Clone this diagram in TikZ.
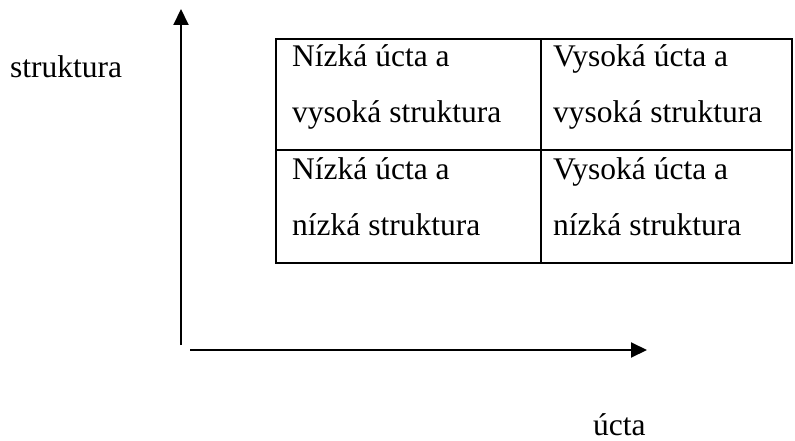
\documentclass[tikz,border=0pt]{standalone}
\usepackage{fontspec}
\setmainfont{Liberation Serif}
\usetikzlibrary{arrows.meta}
\begin{document}
\begin{tikzpicture}[x=1pt,y=-1pt,
  lbl/.style={anchor=base west,inner sep=0pt,font=\fontsize{31.5}{38}\selectfont},
  axis/.style={line width=2pt,-{Triangle[length=16pt,width=15pt]}},
  grid/.style={line width=2pt}]
\useasboundingbox (0,0) rectangle (795,441);
% axes
\coordinate (vbot) at (181,345);
\coordinate (vtop) at (181,9);
\coordinate (hstart) at (190,350);
\coordinate (hend) at (647,350);
\draw[axis] (vbot) -- (vtop);
\draw[axis] (hstart) -- (hend);
\node[lbl] (ylab) at (10,78) {struktura};
\node[lbl] (xlab) at (593,435) {úcta};
% table
\coordinate (tl) at (276,39);
\coordinate (br) at (792,263);
\draw[grid] (tl) rectangle (br);
\draw[grid] (276,150.5) -- (792,150.5);
\draw[grid] (541,39) -- (541,263);
\node[lbl] (a1) at (292,67) {Nízká úcta a};
\node[lbl] (a2) at (292,123) {vysoká struktura};
\node[lbl] (b1) at (553,67) {Vysoká úcta a};
\node[lbl] (b2) at (553,123) {vysoká struktura};
\node[lbl] (c1) at (292,179) {Nízká úcta a};
\node[lbl] (c2) at (292,235) {nízká struktura};
\node[lbl] (d1) at (553,179) {Vysoká úcta a};
\node[lbl] (d2) at (553,235) {nízká struktura};
\end{tikzpicture}
\end{document}
